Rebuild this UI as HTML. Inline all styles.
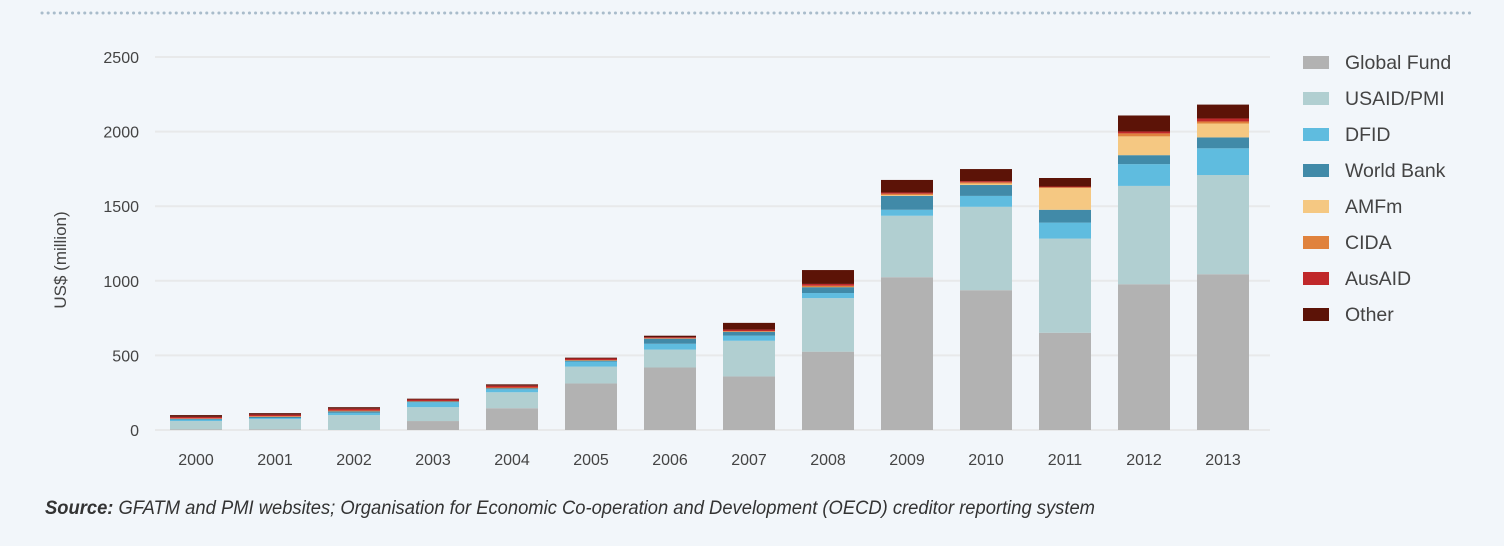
<!DOCTYPE html>
<html><head><meta charset="utf-8"><style>
body{margin:0;background:#f2f6fa;width:1504px;height:541px;overflow:hidden;font-family:"Liberation Sans",sans-serif}
</style></head><body>
<svg width="1504" height="541" id="c">
<line x1="42" y1="13" x2="1470" y2="13" stroke="#a9bccb" stroke-width="3" stroke-dasharray="0.1 6" stroke-linecap="round"/>
<text transform="translate(66,260) rotate(-90)" text-anchor="middle" font-size="17" fill="#444">US$ (million)</text>
<text x="45" y="514" font-size="19" fill="#333" font-style="italic" textLength="1050" lengthAdjust="spacingAndGlyphs"><tspan font-weight="bold">Source:</tspan> GFATM and PMI websites; Organisation for Economic Co-operation and Development (OECD) creditor reporting system</text>
<g id="grid"></g><g id="bars"></g><g id="legend"></g>
</svg>
<script>
const years=['2000','2001','2002','2003','2004','2005','2006','2007','2008','2009','2010','2011','2012','2013'];
const seriesNames=['Global Fund','USAID/PMI','DFID','World Bank','AMFm','CIDA','AusAID','Other'];
const colors=['#b2b2b2','#b1cfd1','#5fbcdf','#418aa8','#f5c882','#e0823d','#c0282a','#5c1307'];
const globalFund=[5,5,0,60,146,312,419,359,525,1024,937,652,977,1044];
const usaid=[55,68,100,93,107,113,120,239,359,412,559,631,659,665];
const dfid=[10,7,15,33,20,34,39,34,34,40,73,107,146,179];
const worldBank=[5,8,10,5,7,6,34,26,39,93,73,86,60,73];
const amfm=[0,0,0,0,0,0,0,0,0,5,10,146,126,93];
const cida=[3,5,5,3,5,4,4,5,10,10,8,5,20,14];
const ausaid=[10,10,13,10,12,10,6,10,12,8,8,5,13,20];
const other=[12,10,10,6,9,6,10,45,93,84,81,57,107,93];
const yTicks=[0,500,1000,1500,2000,2500];
const series=[globalFund,usaid,dfid,worldBank,amfm,cida,ausaid,other];
const NS='http://www.w3.org/2000/svg';
const y0=430,yTop=57,x0=155,x1=1270,step=79,bw=52,firstC=196;
const y=v=>y0-(v/2500)*(y0-yTop);
const xc=i=>firstC+i*step;
function mk(tag,attrs,parent){const e=document.createElementNS(NS,tag);for(const k in attrs)e.setAttribute(k,attrs[k]);parent.appendChild(e);return e;}
const grid=document.getElementById('grid'),bars=document.getElementById('bars'),leg=document.getElementById('legend');
yTicks.forEach(t=>{
 const l=mk('line',{x1:x0,x2:x1,y1:y(t),y2:y(t),stroke:'#e8e9ea','stroke-width':2},grid);
 
 
 const tx=mk('text',{x:139,y:y(t)+6,'text-anchor':'end','font-size':16,fill:'#444'},grid);
 tx.textContent=t;
 
 
});
years.forEach((yr,i)=>{
 let acc=0;
 series.forEach((s,k)=>{
  const v=s[i]; if(v<=0)return;
  const r=mk('rect',{x:xc(i)-bw/2,y:y(acc+v),width:bw,height:y(acc)-y(acc+v),fill:colors[k]},bars);
  
  
  acc+=v;
 });
 const tx=mk('text',{x:xc(i),y:465,'text-anchor':'middle','font-size':16,fill:'#444'},bars);
 tx.textContent=yr;
 
 
});
seriesNames.forEach((n,k)=>{
 const g=mk('g',{},leg);
 
 
 const cy=62+k*36;
 mk('rect',{x:1303,y:cy-6,width:26,height:13,fill:colors[k]},g);
 const t=mk('text',{x:1345,y:cy+7,'font-size':19.5,fill:'#444'},g);
 t.textContent=n;
});
</script>
</body></html>
